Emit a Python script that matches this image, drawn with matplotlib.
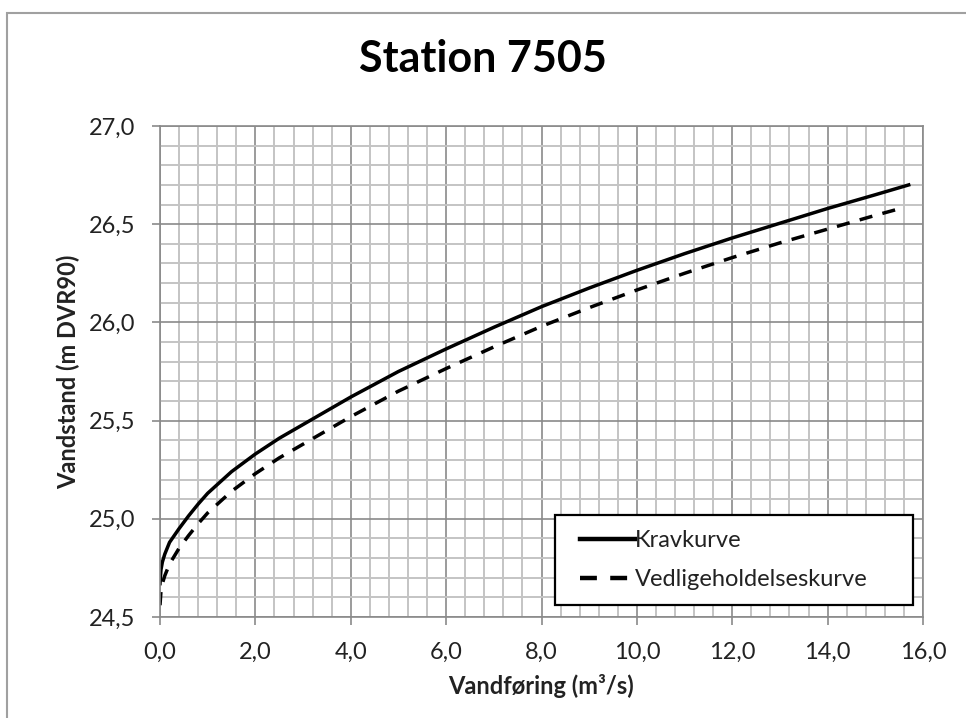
import numpy as np
import matplotlib.pyplot as plt
from matplotlib.ticker import MultipleLocator, FuncFormatter
from matplotlib.patches import Rectangle

# values
q_krav = [0.0, 0.02, 0.05, 0.1, 0.2, 0.4, 0.6, 0.8, 1.0, 1.5, 2.0, 2.5, 3.0, 3.5, 4.0,
          5.0, 6.0, 7.0, 8.0, 9.0, 10.0, 11.0, 12.0, 13.0, 14.0, 15.0, 15.7]
h_krav = [24.67, 24.74, 24.78, 24.82, 24.88, 24.95, 25.015, 25.075, 25.13, 25.24, 25.33,
          25.41, 25.48, 25.55, 25.62, 25.75, 25.865, 25.975, 26.08, 26.175, 26.265, 26.35,
          26.43, 26.505, 26.58, 26.65, 26.70]

q_vedl = [0.0, 0.02, 0.05, 0.1, 0.2, 0.4, 0.6, 0.8, 1.0, 1.5, 2.0, 2.5, 3.0, 3.5, 4.0,
          5.0, 6.0, 7.0, 8.0, 9.0, 10.0, 11.0, 12.0, 13.0, 14.0, 15.0, 15.6]
h_vedl = [24.56, 24.63, 24.67, 24.71, 24.77, 24.85, 24.915, 24.975, 25.03, 25.14, 25.23,
          25.31, 25.38, 25.45, 25.52, 25.65, 25.765, 25.875, 25.98, 26.075, 26.165, 26.25,
          26.33, 26.405, 26.475, 26.545, 26.585]

plt.rcParams['font.family'] = ['Lato', 'DejaVu Sans']

fig = plt.figure(figsize=(9.66, 7.18), dpi=100)
# outer chart border (only left and top are inside the picture)
fig.patches.append(Rectangle((7 / 966, -0.1), 1.2, 1 - 13 / 718 + 0.1,
                             transform=fig.transFigure, fill=False,
                             edgecolor='#a0a0a0', linewidth=1.5))
ax = fig.add_axes([160 / 966, 1 - 617 / 718, (923 - 160) / 966, (617 - 126) / 718])

ax.plot(q_krav, h_krav, color='black', linewidth=2.5, label='Kravkurve')
ax.plot(q_vedl, h_vedl, color='black', linewidth=2.5, dashes=(3.8, 3.0),
        label='Vedligeholdelseskurve')

ax.set_xlim(0, 16)
ax.set_ylim(24.5, 27.0)
ax.xaxis.set_major_locator(MultipleLocator(2))
ax.xaxis.set_minor_locator(MultipleLocator(0.4))
ax.yaxis.set_major_locator(MultipleLocator(0.5))
ax.yaxis.set_minor_locator(MultipleLocator(0.1))
comma = FuncFormatter(lambda v, p: f'{v:.1f}'.replace('.', ','))
ax.xaxis.set_major_formatter(comma)
ax.yaxis.set_major_formatter(comma)

ax.grid(which='minor', color='#c4c4c4', linewidth=1.4)
ax.grid(which='major', color='#8a8a8a', linewidth=1.2)
ax.set_axisbelow(True)
ax.tick_params(which='major', length=6, width=1.2, color='#8a8a8a',
               labelsize=17, labelcolor='#222222', pad=12)
ax.tick_params(which='minor', length=0)
for s in ax.spines.values():
    s.set_color('#8a8a8a')
    s.set_linewidth(1.2)

ax.set_xlabel('Vandføring (m³/s)', fontsize=17, fontweight='bold', color='#222222', labelpad=8)
ax.set_ylabel('Vandstand (m DVR90)', fontsize=17, fontweight='bold', color='#222222', labelpad=6)
fig.text(0.5, 0.918, 'Station 7505', ha='center', va='center',
         fontsize=31, fontweight='bold')

# legend box drawn separately so its padding can match Excel's
ax.add_patch(Rectangle((555 / 966, 1 - 605 / 718), 358 / 966, 90 / 718,
                       transform=fig.transFigure, facecolor='white',
                       edgecolor='black', linewidth=1.6, zorder=5, clip_on=False))
leg = ax.legend(loc='center', bbox_to_anchor=(724 / 966, 1 - 560 / 718),
                bbox_transform=fig.transFigure, fontsize=17, frameon=False,
                handlelength=2.3, handletextpad=0.0, borderpad=0,
                labelspacing=0.75, borderaxespad=0)
leg.set_zorder(6)
for line in leg.get_lines():
    line.set_linewidth(3.2)
for t in leg.get_texts():
    t.set_color('#222222')

fig.savefig('out.png', dpi=100)
